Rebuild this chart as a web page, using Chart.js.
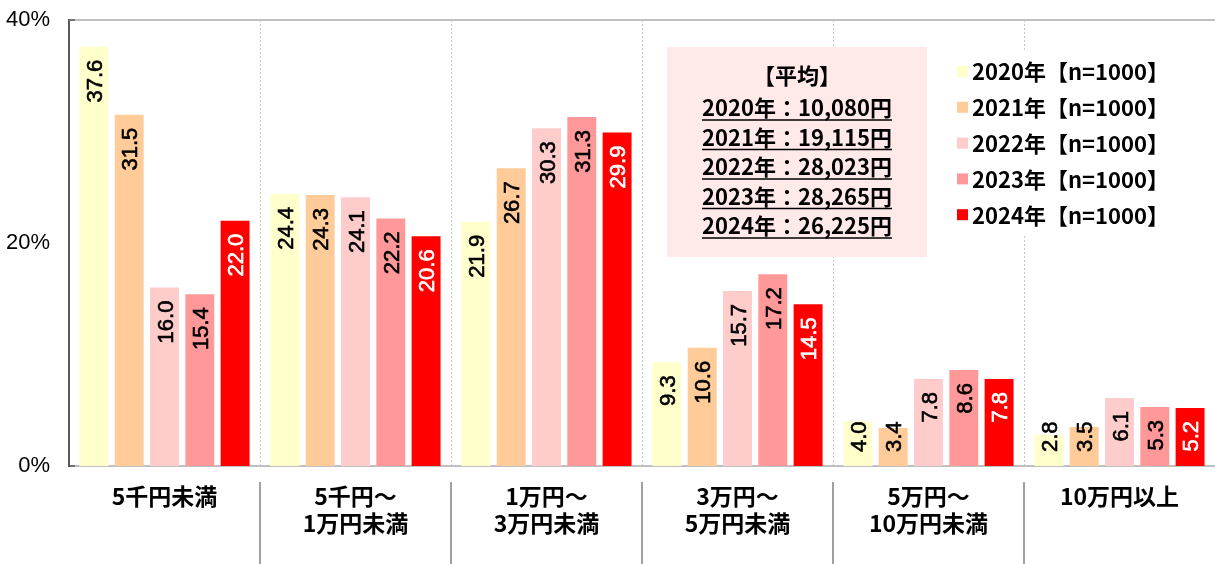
<!DOCTYPE html>
<html>
<head>
<meta charset="utf-8">
<script src="https://cdn.jsdelivr.net/npm/chart.js@4/dist/chart.umd.min.js"></script>
<style>
  html, body { margin: 0; padding: 0; background: #fff; }
  #wrap { width: 1215px; height: 564px; position: relative; }
</style>
</head>
<body>
<div id="wrap"><canvas id="spend-chart"></canvas></div>
<script>
// categories (price ranges)
const categories = [
    ['5千円未満'],
    ['5千円～', '1万円未満'],
    ['1万円～', '3万円未満'],
    ['3万円～', '5万円未満'],
    ['5万円～', '10万円未満'],
    ['10万円以上']
];

const seriesNames = ['2020年【n=1000】', '2021年【n=1000】', '2022年【n=1000】', '2023年【n=1000】', '2024年【n=1000】'];
const seriesColors = ['#FFFFCC', '#FFCC99', '#FFCCCC', '#FF9999', '#FF0000'];

const values2020 = [37.6, 24.4, 21.9, 9.3, 4.0, 2.8];
const values2021 = [31.5, 24.3, 26.7, 10.6, 3.4, 3.5];
const values2022 = [16.0, 24.1, 30.3, 15.7, 7.8, 6.1];
const values2023 = [15.4, 22.2, 31.3, 17.2, 8.6, 5.3];
const values2024 = [22.0, 20.6, 29.9, 14.5, 7.8, 5.2];

const yTicks = [0, 20, 40];

const averageTitle = '【平均】';
const averageLines = ['2020年：10,080円', '2021年：19,115円', '2022年：28,023円', '2023年：28,265円', '2024年：26,225円'];

const jpFont = '"Noto Sans CJK JP", "Noto Sans", sans-serif';
const numFont = '"Liberation Sans", Arial, sans-serif';

const allValues = [values2020, values2021, values2022, values2023, values2024];

// bar value labels, rotated, near the top of each bar
const barLabels = {
    id: 'barLabels',
    afterDatasetsDraw(chart) {
        const ctx = chart.ctx;
        chart.data.datasets.forEach((ds, i) => {
            const meta = chart.getDatasetMeta(i);
            meta.data.forEach((bar, j) => {
                const text = ds.data[j].toFixed(1);
                const col = i === 4 ? '#FFFFFF' : '#000000';
                ctx.save();
                ctx.font = '22px ' + numFont;
                const w = ctx.measureText(text).width;
                const top = Math.min(bar.y + 13, bar.base - 14 - w);
                ctx.translate(bar.x, top);
                ctx.rotate(-Math.PI / 2);
                ctx.textAlign = 'right';
                ctx.textBaseline = 'alphabetic';
                ctx.fillStyle = col;
                ctx.strokeStyle = col;
                ctx.lineWidth = 0.6;
                ctx.fillText(text, 0, 8);
                ctx.strokeText(text, 0, 8);
                ctx.restore();
            });
        });
    }
};

// frame lines, separators under the axis, average box and legend
const extras = {
    id: 'extras',
    beforeDatasetsDraw(chart) {
        const ctx = chart.ctx;
        const area = chart.chartArea;
        const x = chart.scales.x;
        ctx.save();
        // top line
        ctx.strokeStyle = '#C0C0C0';
        ctx.lineWidth = 2;
        ctx.beginPath();
        ctx.moveTo(area.left, area.top);
        ctx.lineTo(area.right, area.top);
        ctx.stroke();
        // small ticks on the value axis
        ctx.strokeStyle = '#595959';
        ctx.lineWidth = 1.5;
        [area.top, area.bottom].forEach(ty => {
            ctx.beginPath();
            ctx.moveTo(area.left, ty);
            ctx.lineTo(area.left + 6, ty);
            ctx.stroke();
        });
        // separators below the axis
        ctx.strokeStyle = '#A0A0A0';
        ctx.lineWidth = 2;
        for (let i = 0; i < categories.length - 1; i++) {
            const sx = Math.round((x.getPixelForValue(i) + x.getPixelForValue(i + 1)) / 2);
            ctx.beginPath();
            ctx.moveTo(sx, area.bottom + 16);
            ctx.lineTo(sx, chart.height);
            ctx.stroke();
        }
        ctx.restore();
    },
    afterDatasetsDraw(chart) {
        const ctx = chart.ctx;
        ctx.save();
        // average box
        ctx.fillStyle = '#FFE9E9';
        ctx.fillRect(667, 47, 260, 210);
        ctx.fillStyle = '#000';
        ctx.textAlign = 'center';
        ctx.textBaseline = 'alphabetic';
        ctx.font = 'bold 22px ' + jpFont;
        ctx.fillText(averageTitle, 797, 84);
        averageLines.forEach((line, k) => {
            const cy = 116 + k * 29.5;
            ctx.fillText(line, 797, cy);
            const w = ctx.measureText(line).width;
            ctx.lineWidth = 1.5;
            ctx.strokeStyle = '#000';
            ctx.beginPath();
            ctx.moveTo(797 - w / 2, cy + 4);
            ctx.lineTo(797 + w / 2, cy + 4);
            ctx.stroke();
        });

        // legend
        ctx.fillStyle = '#fff';
        ctx.fillRect(945, 52, 260, 182);
        ctx.textAlign = 'left';
        seriesNames.forEach((name, k) => {
            const cy = 71 + k * 35.8;
            ctx.fillStyle = seriesColors[k];
            ctx.fillRect(957, cy - 5, 11, 11);
            ctx.fillStyle = '#000';
            ctx.font = 'bold 22px ' + jpFont;
            ctx.textBaseline = 'middle';
            ctx.fillText(name, 972, cy + 1);
        });
        ctx.restore();
    }
};

const ctx = document.getElementById('spend-chart').getContext('2d');
const spendChart = new Chart(ctx, {
    type: 'bar',
    data: {
        labels: categories,
        datasets: seriesNames.map((name, i) => ({
            label: name,
            data: allValues[i],
            backgroundColor: seriesColors[i],
            borderWidth: 0,
            categoryPercentage: 0.924,
            barPercentage: 0.82
        }))
    },
    options: {
        responsive: true,
        maintainAspectRatio: false,
        animation: false,
        devicePixelRatio: 1,
        layout: { padding: { top: 20, right: 0, left: 0, bottom: 0 } },
        plugins: {
            legend: { display: false },
            tooltip: { enabled: false }
        },
        scales: {
            x: {
                grid: {
                    display: true,
                    offset: true,
                    drawTicks: false,
                    color: '#C8C8C8',
                    lineWidth: 1
                },
                border: { display: true, color: '#C0C0C0', width: 2, dash: [2, 2] },
                ticks: {
                    color: '#000',
                    font: { family: jpFont, size: 23, weight: 'bold', lineHeight: 1.2 },
                    padding: 16,
                    maxRotation: 0,
                    autoSkip: false
                },
                afterFit(scale) { scale.height = 98; }
            },
            y: {
                min: 0,
                max: 40,
                afterBuildTicks(scale) { scale.ticks = yTicks.map(v => ({ value: v })); },
                grid: { display: false, drawTicks: true, tickLength: 19 },
                border: { display: true, color: '#595959', width: 2 },
                ticks: {
                    color: '#000',
                    font: { family: numFont, size: 22 },
                    padding: 0,
                    callback: v => v + '%'
                },
                afterFit(scale) { scale.width = 69; }
            }
        }
    },
    plugins: [extras, barLabels]
});
</script>
</body>
</html>
